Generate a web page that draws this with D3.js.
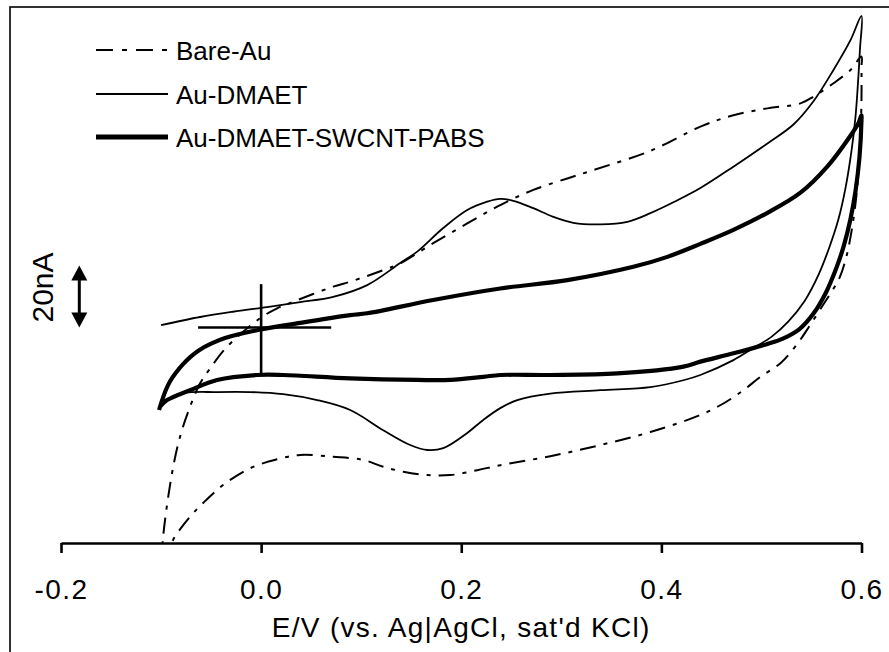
<!DOCTYPE html>
<html>
<head>
<meta charset="utf-8">
<script src="https://cdn.jsdelivr.net/npm/d3@7"></script>
<style>
  body { margin: 0; background: #fff; }
  text { font-family: "Liberation Sans", Arial, Helvetica, sans-serif; fill: #000; }
</style>
</head>
<body>
<svg id="chart" width="889" height="652"></svg>
<script>
// Axis ticks
const xTicks = [-0.2, 0.0, 0.2, 0.4, 0.6];
const xTickLabels = ["-0.2", "0.0", "0.2", "0.4", "0.6"];
const xTitle = "E/V (vs. Ag|AgCl, sat'd KCl)";
const scaleBarLabel = "20nA";
const scaleBarRange = [0, 20]; // nA

// Series names (legend order)
const seriesNames = ["Bare-Au", "Au-DMAET", "Au-DMAET-SWCNT-PABS"];

// Cyclic voltammograms: potential E (V) and current I (nA),
// anodic sweep from -0.1 V to 0.6 V, then cathodic sweep back.
const bareAuE = [-0.100, -0.098, -0.089, -0.081, -0.071, -0.061, -0.051, -0.034, -0.001, 0.016, 0.032, 0.072, 0.089, 0.122, 0.139, 0.172, 0.206, 0.239, 0.272, 0.306, 0.332, 0.389, 0.439, 0.472, 0.506, 0.539, 0.552, 0.572, 0.589, 0.600,
                 0.600, 0.600, 0.599, 0.597, 0.594, 0.590, 0.585, 0.578, 0.570, 0.562, 0.549, 0.536, 0.519, 0.499, 0.482, 0.462, 0.439, 0.389, 0.339, 0.289, 0.239, 0.216, 0.189, 0.166, 0.142, 0.122, 0.102, 0.072, 0.039, 0.016, -0.011, -0.038, -0.058, -0.071, -0.088, -0.096, -0.101];
const bareAuI = [-78.0, -67.6, -46.9, -35.2, -25.5, -18.0, -13.2, -6.2, 3.0, 6.2, 8.3, 13.2, 14.8, 18.5, 20.7, 27.2, 33.6, 39.5, 44.4, 48.1, 50.8, 57.0, 64.8, 68.5, 70.7, 72.3, 74.5, 78.8, 83.1, 87.4,
                 84.0, 74.0, 62.0, 50.0, 40.0, 31.0, 23.0, 16.0, 11.5, 7.5, 1.0, -5.2, -11.5, -15.9, -20.2, -24.5, -28.2, -33.7, -37.9, -41.5, -44.4, -46.0, -47.6, -47.6, -46.5, -44.9, -42.7, -41.7, -41.1, -42.5, -45.4, -50.8, -56.6, -61.0, -68.5, -75.0, -80.0];

const dmaetE = [-0.100, -0.061, -0.028, 0.006, 0.039, 0.072, 0.106, 0.139, 0.156, 0.182, 0.206, 0.226, 0.239, 0.252, 0.272, 0.292, 0.312, 0.339, 0.366, 0.389, 0.412, 0.439, 0.472, 0.506, 0.532, 0.552, 0.572, 0.589, 0.600,
                0.5985, 0.5965, 0.594, 0.590, 0.584, 0.577, 0.568, 0.557, 0.543, 0.527, 0.510, 0.490, 0.472, 0.439, 0.422, 0.389, 0.339, 0.289, 0.256, 0.239, 0.222, 0.206, 0.182, 0.166, 0.149, 0.122, 0.089, 0.056, 0.022, -0.011, -0.044, -0.078, -0.098, -0.100];
const dmaetI = [0.8, 3.4, 5.1, 6.6, 8.2, 9.9, 13.7, 20.8, 24.5, 32.1, 37.9, 40.6, 41.5, 40.9, 38.5, 35.7, 33.8, 33.3, 34.1, 36.9, 40.4, 45.0, 51.9, 59.4, 65.5, 73.0, 83.1, 92.7, 100.5,
                90.0, 79.0, 68.0, 57.0, 45.0, 35.0, 26.0, 17.0, 8.5, 2.0, -3.0, -7.0, -10.5, -15.3, -17.0, -19.2, -20.2, -21.3, -23.4, -26.0, -29.8, -34.0, -38.9, -39.5, -37.9, -33.1, -26.6, -23.4, -21.5, -20.8, -20.8, -21.2, -23.9, -24.7];

const pabsE = [-0.102, -0.099, -0.095, -0.091, -0.085, -0.078, -0.070, -0.062, -0.050, -0.036, -0.003, 0.039, 0.089, 0.106, 0.172, 0.239, 0.306, 0.372, 0.406, 0.439, 0.472, 0.506, 0.539, 0.566, 0.586, 0.597, 0.600,
               0.600, 0.598, 0.594, 0.589, 0.582, 0.574, 0.564, 0.552, 0.538, 0.522, 0.506, 0.472, 0.439, 0.422, 0.356, 0.289, 0.239, 0.222, 0.189, 0.156, 0.089, 0.022, -0.004, -0.044, -0.071, -0.094, -0.101];
const pabsI = [-26.6, -23.5, -20.0, -17.3, -14.5, -11.8, -9.3, -7.3, -5.2, -3.4, -0.8, 1.5, 4.0, 4.6, 8.9, 12.6, 15.3, 19.6, 22.8, 27.0, 31.5, 37.0, 43.5, 52.0, 60.5, 66.0, 68.5,
               67.0, 55.0, 44.0, 35.0, 26.0, 18.5, 11.0, 4.5, -0.5, -3.5, -5.3, -8.3, -11.0, -12.6, -14.8, -15.3, -15.3, -15.9, -16.9, -16.9, -16.4, -15.3, -15.3, -16.9, -20.2, -23.4, -25.5];

// Reference cross at 0 V / 0 nA
const crossE = [-0.063, 0.070];
const crossI = [14.0, -15.3];

const svg = d3.select("#chart");

const x = d3.scaleLinear().domain([-0.2, 0.6]).range([61, 861.5]);
const y = d3.scaleLinear().domain([-69.5, 100]).range([543, 543 - 169.5 * 3.1]);

// Outer frame
svg.append("rect")
  .attr("x", 10).attr("y", 7)
  .attr("width", 900).attr("height", 700)
  .attr("fill", "none").attr("stroke", "#000").attr("stroke-width", 1.6);

// Clip curves at the potential axis
svg.append("defs").append("clipPath").attr("id", "plotClip")
  .append("rect").attr("x", 0).attr("y", 0).attr("width", 889).attr("height", y(-69.5));

const styles = [
  { width: 2, dash: "16,8,4,8" },
  { width: 1.8, dash: null },
  { width: 4.2, dash: null }
];

const seriesData = [
  bareAuE.map((e, i) => [e, bareAuI[i]]),
  dmaetE.map((e, i) => [e, dmaetI[i]]),
  pabsE.map((e, i) => [e, pabsI[i]])
];

const line = d3.line()
  .x(d => x(d[0]))
  .y(d => y(d[1]))
  .curve(d3.curveCatmullRom.alpha(0.5));

const curves = svg.append("g").attr("clip-path", "url(#plotClip)");
seriesData.forEach((pts, k) => {
  curves.append("path")
    .attr("d", line(pts))
    .attr("fill", "none")
    .attr("stroke", "#000")
    .attr("stroke-width", styles[k].width)
    .attr("stroke-linejoin", "round")
    .attr("stroke-dasharray", styles[k].dash);
});

// Cross marking the origin
svg.append("line")
  .attr("x1", x(0)).attr("x2", x(0))
  .attr("y1", y(crossI[0])).attr("y2", y(crossI[1]))
  .attr("stroke", "#000").attr("stroke-width", 2.6);
svg.append("line")
  .attr("x1", x(crossE[0])).attr("x2", x(crossE[1]))
  .attr("y1", y(0)).attr("y2", y(0))
  .attr("stroke", "#000").attr("stroke-width", 2.6);

// Potential axis
const xAxis = d3.axisBottom(x)
  .tickValues(xTicks)
  .tickFormat((d, i) => xTickLabels[i])
  .tickSizeInner(10)
  .tickSizeOuter(0)
  .tickPadding(26);

const gx = svg.append("g")
  .attr("transform", `translate(0,${y(-69.5)})`)
  .call(xAxis);
gx.select(".domain").attr("stroke", "#000").attr("stroke-width", 2.6);
gx.selectAll(".tick line").attr("stroke", "#000").attr("stroke-width", 2.6);
gx.selectAll(".tick text")
  .attr("font-family", "'Liberation Sans', Arial, sans-serif")
  .attr("font-size", 28)
  .attr("letter-spacing", "1.4px")
  .attr("fill", "#000");

svg.append("text")
  .attr("x", x(0.2)).attr("y", 637)
  .attr("text-anchor", "middle")
  .attr("font-size", 28)
  .attr("letter-spacing", "1.3px")
  .text(xTitle);

// Current scale bar
const barX = 79.3;
const headW = 8, headL = 15;
const yTop = y(scaleBarRange[1]), yBot = y(scaleBarRange[0]);
svg.append("line")
  .attr("x1", barX).attr("x2", barX)
  .attr("y1", yTop + headL - 1).attr("y2", yBot - headL + 1)
  .attr("stroke", "#000").attr("stroke-width", 3);
svg.append("path")
  .attr("d", `M${barX},${yTop} L${barX - headW},${yTop + headL} L${barX + headW},${yTop + headL} Z`)
  .attr("fill", "#000");
svg.append("path")
  .attr("d", `M${barX},${yBot} L${barX - headW},${yBot - headL} L${barX + headW},${yBot - headL} Z`)
  .attr("fill", "#000");
svg.append("text")
  .attr("transform", `translate(53,287.5) rotate(-90)`)
  .attr("text-anchor", "middle")
  .attr("font-size", 30)
  .text(scaleBarLabel);

// Legend
const legendY = [50, 94, 137];
const legend = svg.append("g");
seriesNames.forEach((name, k) => {
  legend.append("line")
    .attr("x1", 96).attr("x2", 168)
    .attr("y1", legendY[k]).attr("y2", legendY[k])
    .attr("stroke", "#000")
    .attr("stroke-width", k === 2 ? 5 : styles[k].width)
    .attr("stroke-dasharray", k === 0 ? "17,9,5,9" : null);
  legend.append("text")
    .attr("x", 176).attr("y", legendY[k] + 9.5)
    .attr("font-size", 26)
    .text(name);
});
</script>
</body>
</html>
